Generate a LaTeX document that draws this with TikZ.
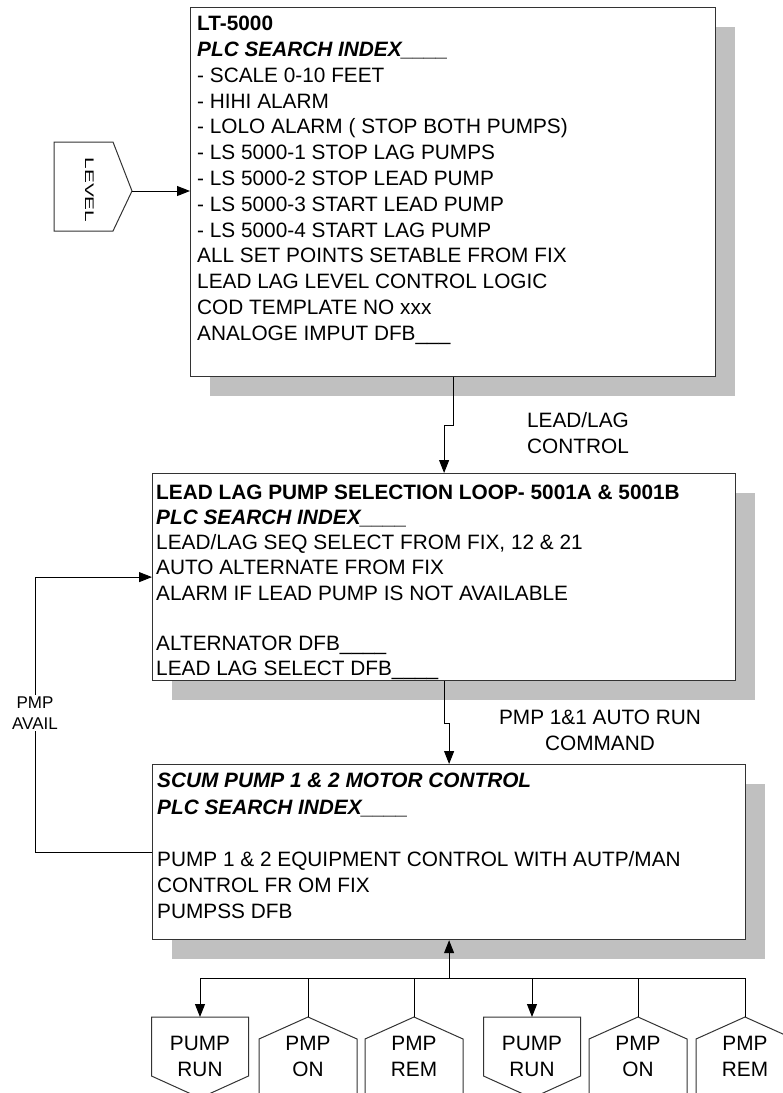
\documentclass[tikz,border=0pt]{standalone}
\usepackage{fontspec}
\setmainfont{Liberation Sans}
\usetikzlibrary{
    arrows.meta,
    positioning,
    shadows
}
\definecolor{shadowgray}{RGB}{192,192,192}
\newcommand{\diagfont}[1]{\fontsize{20.8}{#1}\selectfont}
\tikzset{
  panel/.style = {draw=black!80, line width=1.2pt, fill=white,
                  anchor=north west, inner sep=0,
                  drop shadow={shadow xshift=19pt, shadow yshift=-19pt,
                               fill=shadowgray, opacity=1}},
  txt/.style   = {anchor=north west, inner sep=0, align=left,
                  font=\diagfont{#1}},
  lbl/.style   = {align=center, inner sep=2pt, font=\diagfont{26}},
  arr/.style   = {-{Triangle[length=13pt,width=10pt]}, line width=1pt},
  wire/.style  = {line width=1pt},
  flag/.style  = {draw=black!80, line width=1pt}
}

\begin{document}
\begin{tikzpicture}[x=1pt, y=-1pt]
\useasboundingbox (0,0) rectangle (783,1093);
\clip (0,0) rectangle (783,1093);

%% main blocks
\node[panel, minimum width=525pt, minimum height=369pt] (topbox) at (190,7)   {};
\node[panel, minimum width=583pt, minimum height=207pt] (midbox) at (152,473) {};
\node[panel, minimum width=593pt, minimum height=175pt] (botbox) at (152,764) {};

\node[txt=25.8] (toptext) at ([shift={(7,5.4)}]topbox.north west)
  {\strut\textbf{LT-5000}\\
   \textbf{\textit{PLC SEARCH INDEX\_\_\_\_}}\\
   - SCALE 0-10 FEET\\
   - HIHI ALARM\\
   - LOLO ALARM ( STOP BOTH PUMPS)\\
   - LS 5000-1 STOP LAG PUMPS\\
   - LS 5000-2 STOP LEAD PUMP\\
   - LS 5000-3 START LEAD PUMP\\
   - LS 5000-4 START LAG PUMP\\
   ALL SET POINTS SETABLE FROM FIX\\
   LEAD LAG LEVEL CONTROL LOGIC\\
   COD TEMPLATE NO xxx\\
   ANALOGE IMPUT DFB\_\_\_};

\node[txt=25.1] (midtext) at ([shift={(4,8.9)}]midbox.north west)
  {\strut\textbf{LEAD LAG PUMP SELECTION LOOP- 5001A \& 5001B}\\
   \textbf{\textit{PLC SEARCH INDEX\_\_\_\_}}\\
   LEAD/LAG SEQ SELECT FROM FIX, 12 \& 21\\
   AUTO ALTERNATE FROM FIX\\
   ALARM IF LEAD PUMP IS NOT AVAILABLE\\
   \strut\\
   ALTERNATOR DFB\_\_\_\_\\
   LEAD LAG SELECT DFB\_\_\_\_};

\node[txt=26.2] (bottext) at ([shift={(5,5.4)}]botbox.north west)
  {\strut\textbf{\textit{SCUM PUMP 1 \& 2 MOTOR CONTROL}}\\
   \textbf{\textit{PLC SEARCH INDEX\_\_\_\_}}\\
   \strut\\
   PUMP 1 \& 2 EQUIPMENT CONTROL WITH AUTP/MAN\\
   CONTROL FR OM FIX\\
   PUMPSS DFB};

%% level input
\draw[flag] (54,142) -- (113,142) -- (132,191) -- (113,231) -- (54,231) -- cycle;
\coordinate (levtip) at (132,191);
\node[inner sep=0, font=\diagfont{25}] (level) at (89.5,190)
  {\rotatebox{-90}{\scalebox{1}[0.6]{LEVEL}}};
\draw[arr] (levtip) -- (levtip -| topbox.west);

%% flow between blocks
\draw[arr] (topbox.south) -- ++(0,48) -| (midbox.north);
\node[lbl] (llctrl) at (578,433) {LEAD/LAG\\CONTROL};

\draw[arr] (midbox.south) -- ++(0,42) -| (botbox.north);
\node[lbl] (autorun) at (600,730) {PMP 1\&1 AUTO RUN\\COMMAND};

%% pump available feedback
\draw[arr] (botbox.west) -- ++(-117,0) |- (midbox.west);
\node[fill=white, align=center, inner sep=2pt,
      font=\fontsize{17}{21}\selectfont] (avail) at (35,713) {PMP\\AVAIL};

%% field signals
\foreach \x/\n in {200/1, 532/2} {
  \draw[flag] ({\x-48.5},1017) -- ({\x+48.5},1017) -- ({\x+48.5},1076)
              -- (\x,1098) -- ({\x-48.5},1076) -- cycle;
  \node[lbl] (run\n) at (\x,1056) {PUMP\\RUN};
  \coordinate (runin\n) at (\x,1017);
}
\foreach \x/\n in {308/1, 638/2} {
  \draw[flag] (\x,1017) -- ({\x+49},1039) -- ({\x+49},1100)
              -- ({\x-49},1100) -- ({\x-49},1039) -- cycle;
  \node[lbl] (on\n) at (\x,1056) {PMP\\ON};
  \coordinate (onin\n) at (\x,1017);
}
\foreach \x/\n in {414/1, 745/2} {
  \draw[flag] (\x,1017) -- ({\x+49},1039) -- ({\x+49},1100)
              -- ({\x-49},1100) -- ({\x-49},1039) -- cycle;
  \node[lbl] (rem\n) at (\x,1056) {PMP\\REM};
  \coordinate (remin\n) at (\x,1017);
}

\coordinate (busy) at (0,978);
\draw[wire] (runin1 |- busy) -- (remin2 |- busy);
\draw[arr] (botbox.south |- busy) -- (botbox.south);
\foreach \c in {runin1, runin2}
  \draw[arr] (\c |- busy) -- (\c);
\foreach \c in {onin1, remin1, onin2, remin2}
  \draw[wire] (\c |- busy) -- (\c);

\end{tikzpicture}
\end{document}
